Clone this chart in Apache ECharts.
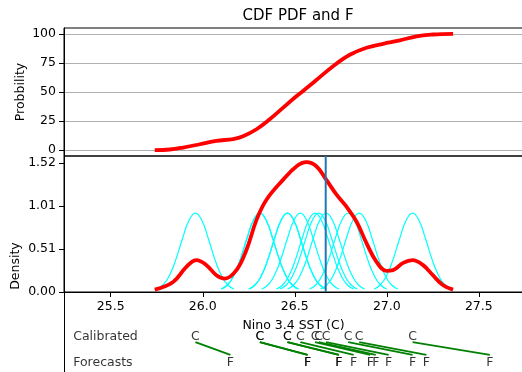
<!DOCTYPE html>
<html>
<head>
<meta charset="utf-8">
<script src="https://cdn.jsdelivr.net/npm/echarts@6/dist/echarts.min.js"></script>
<style>
  html, body { margin: 0; padding: 0; background: #fff; }
  #container { width: 522px; height: 372px; }
</style>
</head>
<body>
<div id="container"></div>
<script>
// values
var xTicks = [25.5, 26.0, 26.5, 27.0, 27.5];
var probTicks = [0, 25, 50, 75, 100];
var densityTicks = [0, 0.5067, 1.0133, 1.52];

var cdfX = [25.739, 25.821, 25.893, 25.984, 26.074, 26.165, 26.219, 26.292, 26.364, 26.437, 26.51, 26.578, 26.617, 26.708, 26.799, 26.89, 26.98, 27.071, 27.161, 27.25, 27.36];
var cdfY = [0, 0.6, 2.3, 5.1, 8.0, 9.6, 12.0, 18, 26.6, 36.6, 46.5, 55.1, 60.3, 72.2, 82.0, 88, 91.4, 94.3, 97.9, 99.4, 100];

var pdfX = [25.739, 25.839, 25.911, 25.966, 26.02, 26.074, 26.12, 26.183, 26.237, 26.292, 26.346, 26.437, 26.51, 26.563, 26.617, 26.668, 26.727, 26.78, 26.835, 26.89, 26.944, 26.998, 27.034, 27.089, 27.14, 27.197, 27.25, 27.306, 27.36];
var pdfY = [0.028, 0.118, 0.296, 0.375, 0.316, 0.198, 0.158, 0.257, 0.494, 0.849, 1.086, 1.322, 1.48, 1.527, 1.48, 1.33, 1.145, 1.006, 0.829, 0.573, 0.355, 0.249, 0.257, 0.343, 0.375, 0.316, 0.198, 0.079, 0.028];

// shape of one member's kernel (offset from member, density)
var kernelOffset = [-0.21, -0.175, -0.14, -0.105, -0.07, -0.035, 0, 0.035, 0.07, 0.105, 0.14, 0.175, 0.21];
var kernelDensity = [0.035, 0.085, 0.2, 0.39, 0.63, 0.84, 0.928, 0.84, 0.63, 0.39, 0.2, 0.085, 0.035];

var calibrated = [25.96, 26.31, 26.31, 26.46, 26.46, 26.53, 26.61, 26.63, 26.67, 26.79, 26.85, 27.14];
var forecasts = [26.15, 26.57, 26.57, 26.74, 26.74, 26.82, 26.91, 26.94, 27.01, 27.14, 27.215, 27.56];
var observed = 26.668;

var xMin = 25.246, xMax = 27.74;
var labelX = 25.296;
var yC = -0.54, yF = -0.84, yLineTop = -0.6, yLineBot = -0.75;

var font = 'DejaVu Sans';
var myChart = echarts.init(document.getElementById('container'));

var series = [];
for (var i = 0; i < calibrated.length; i++) {
    var kd = [];
    for (var k = 0; k < kernelOffset.length; k++) {
        kd.push([calibrated[i] + kernelOffset[k], kernelDensity[k]]);
    }
    series.push({
        type: 'line', xAxisIndex: 1, yAxisIndex: 1, data: kd, smooth: 0.5,
        symbol: 'none', lineStyle: { color: '#00ffff', width: 1.2 }, z: 2
    });
}

series.push({
    type: 'line', xAxisIndex: 1, yAxisIndex: 1, smooth: 0.4, symbol: 'none',
    data: pdfX.map(function (x, i) { return [x, pdfY[i]]; }),
    lineStyle: { color: '#ff0000', width: 3.8 }, z: 3
});
series.push({
    type: 'line', xAxisIndex: 0, yAxisIndex: 0, smooth: 0.4, symbol: 'none',
    data: cdfX.map(function (x, i) { return [x, cdfY[i]]; }),
    lineStyle: { color: '#ff0000', width: 3.8 }, z: 3
});
series.push({
    type: 'line', xAxisIndex: 1, yAxisIndex: 1, symbol: 'none',
    data: [[observed, 0], [observed, 1.6]],
    lineStyle: { color: '#1f77b4', width: 2 }, z: 4
});

// C -> F connectors (annotation grid)
series.push({
    type: 'lines', coordinateSystem: 'cartesian2d', xAxisIndex: 2, yAxisIndex: 2,
    data: calibrated.map(function (c, i) { return { coords: [[c, yLineTop], [forecasts[i], yLineBot]] }; }),
    lineStyle: { color: '#008000', width: 1.8, opacity: 1 }, z: 3
});

function textSeries(points, text, pos) {
    return {
        type: 'scatter', xAxisIndex: 2, yAxisIndex: 2, symbolSize: 0,
        data: points, silent: true, z: 5,
        label: {
            show: true, position: pos, distance: 0, formatter: text,
            color: '#000', fontFamily: font, fontSize: 12.5
        }
    };
}
series.push(textSeries(calibrated.map(function (c) { return [c, yC]; }), 'C', 'inside'));
series.push(textSeries(forecasts.map(function (f) { return [f, yF]; }), 'F', 'inside'));
series.push(textSeries([[labelX, yC]], 'Calibrated', 'right'));
series.push(textSeries([[labelX, yF]], 'Forecasts', 'right'));

var option = {
    animation: false,
    backgroundColor: '#fff',
    title: {
        text: 'CDF PDF and F', left: 293, top: 4, textAlign: 'center',
        textStyle: { fontFamily: font, fontSize: 15, fontWeight: 'normal', color: '#000' }
    },
    grid: [
        { left: 64, top: 28, right: -1, height: 128, show: true, borderColor: '#000', borderWidth: 1, outerBoundsMode: 'none', containLabel: false },
        { left: 64, top: 156, right: -1, height: 136, show: true, borderColor: '#000', borderWidth: 1, outerBoundsMode: 'none', containLabel: false },
        { left: 64, top: 156, right: -1, height: 220, show: false, outerBoundsMode: 'none', containLabel: false }
    ],
    xAxis: [
        {
            type: 'value', gridIndex: 0, min: xMin, max: xMax,
            axisLine: { show: false }, axisTick: { show: false },
            axisLabel: { show: false }, splitLine: { show: false }
        },
        {
            type: 'value', gridIndex: 1, min: xMin, max: xMax,
            axisLine: { show: true, onZero: false, lineStyle: { color: '#000', width: 1 } },
            axisTick: { show: true, length: 5, customValues: xTicks, lineStyle: { color: '#000' } },
            axisLabel: {
                customValues: xTicks, margin: 8, color: '#000', fontFamily: font, fontSize: 12.5,
                formatter: function (v) { return v.toFixed(1); }
            },
            splitLine: { show: false },
            name: 'Nino 3.4 SST (C)', nameLocation: 'middle', nameGap: 27, nameMoveOverlap: false,
            nameTextStyle: { color: '#000', fontFamily: font, fontSize: 12.5 }
        },
        {
            type: 'value', gridIndex: 2, min: xMin, max: xMax, show: false
        }
    ],
    yAxis: [
        {
            type: 'value', gridIndex: 0, min: -5, max: 105,
            axisLine: { show: true, lineStyle: { color: '#000' } },
            axisTick: { show: true, length: 5, customValues: probTicks, lineStyle: { color: '#000' } },
            axisLabel: { customValues: probTicks, color: '#000', fontFamily: font, fontSize: 12.5 },
            splitLine: { show: true, lineStyle: { color: '#b0b0b0', width: 1 } },
            name: 'Probbility', nameLocation: 'middle', nameGap: 37, nameMoveOverlap: false,
            nameTextStyle: { color: '#000', fontFamily: font, fontSize: 12.5 }
        },
        {
            type: 'value', gridIndex: 1, min: 0, max: 1.6,
            axisLine: { show: true, lineStyle: { color: '#000' } },
            axisTick: { show: true, length: 5, customValues: densityTicks, lineStyle: { color: '#000' } },
            axisLabel: {
                customValues: densityTicks, color: '#000', fontFamily: font, fontSize: 12.5,
                formatter: function (v) { return v.toFixed(2); }
            },
            splitLine: { show: false }
        },
        {
            type: 'value', gridIndex: 2, min: -1, max: 1.6,
            axisLine: { show: true, lineStyle: { color: '#000' } },
            axisTick: { show: false }, axisLabel: { show: false }, splitLine: { show: false },
            name: 'Density', nameLocation: 'middle', nameGap: 42, nameMoveOverlap: false,
            nameTextStyle: { color: '#000', fontFamily: font, fontSize: 12.5 }
        }
    ],
    series: series
};
myChart.setOption(option);
</script>
</body>
</html>
